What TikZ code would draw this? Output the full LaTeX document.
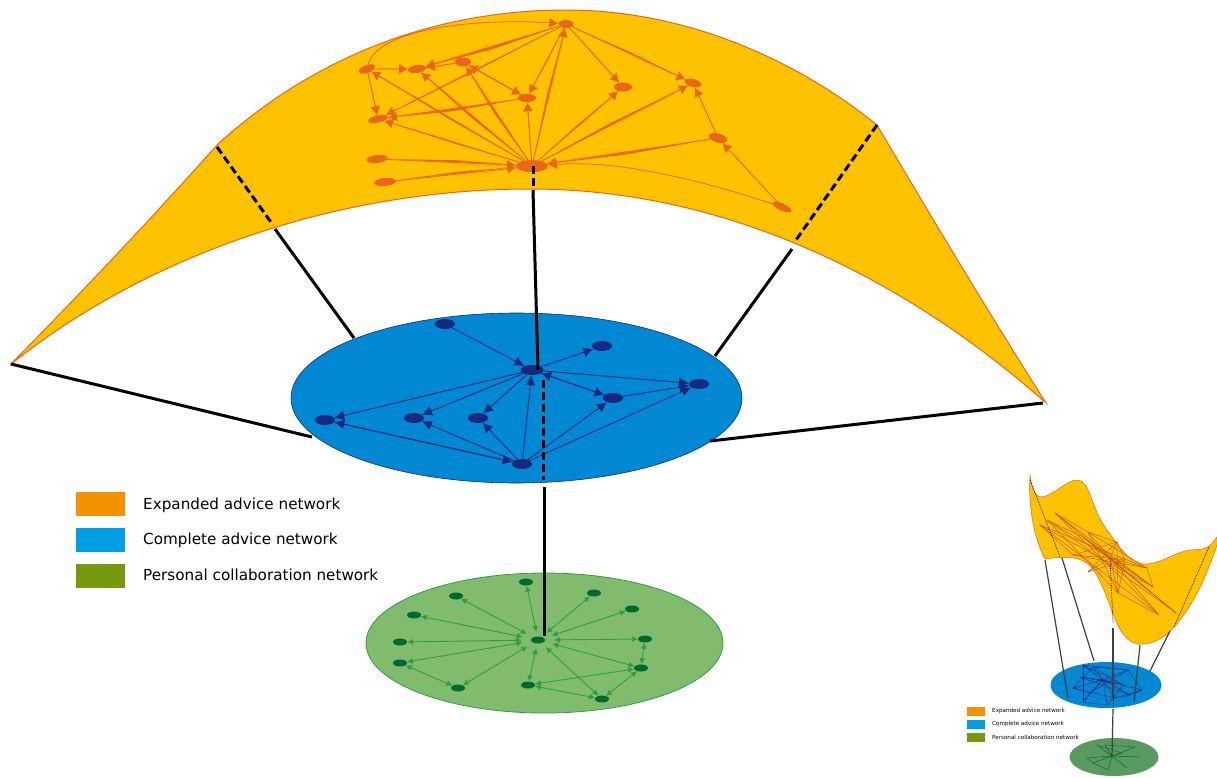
\documentclass[tikz,border=0pt]{standalone}
\usepackage{fontspec}
\setmainfont{DejaVu Sans}
\usepackage{tikz}
\usetikzlibrary{arrows.meta,shapes.geometric,calc}
\definecolor{sheet}{HTML}{FDC300}
\definecolor{orangeline}{HTML}{E9661A}
\definecolor{bluedisc}{HTML}{0089D2}
\definecolor{bluenode}{HTML}{18287F}
\definecolor{greendisc}{HTML}{81BC6E}
\definecolor{greenline}{HTML}{2F9E40}
\definecolor{greennode}{HTML}{006A2E}
\definecolor{minigreen}{HTML}{5A9A60}
\definecolor{keyorange}{HTML}{F39200}
\definecolor{keyblue}{HTML}{009FE3}
\definecolor{keygreen}{HTML}{76990F}

\begin{document}
\begin{tikzpicture}[
  x=1pt,y=-1pt,
  vertex/.style={ellipse,inner sep=0pt,draw=none},
  onode/.style={vertex,fill=orangeline,minimum width=18pt,minimum height=8pt},
  bnode/.style={vertex,fill=bluenode,minimum width=20pt,minimum height=10pt},
  gnode/.style={vertex,fill=greennode,minimum width=14pt,minimum height=7pt},
  oedge/.style={orangeline,line width=0.8pt,-{Latex[length=9pt,width=10pt]}},
  bedge/.style={bluenode,line width=0.9pt,-{Latex[length=10pt,width=10pt]}},
  gedge/.style={greenline,line width=0.9pt,{Latex[length=6pt,width=6pt]}-{Latex[length=6pt,width=6pt]}},
  link/.style={black,line width=3pt},
  dashlink/.style={black,line width=3pt,dash pattern=on 8pt off 4pt},
  keybox/.style={minimum width=49pt,minimum height=24pt,inner sep=0pt},
  keytext/.style={anchor=west,inner sep=0pt,font=\fontsize{15.2}{18}\selectfont},
  minikey/.style={minimum width=18pt,minimum height=9pt,inner sep=0pt},
  minitext/.style={anchor=west,inner sep=0pt,font=\fontsize{5.6}{6}\selectfont},
]
\useasboundingbox (0,0) rectangle (1217,777);

% sheet
\filldraw[fill=sheet,draw=orangeline,line width=1pt]
  (10,365) .. controls (82,292) and (150,220) .. (218,144)
  .. controls (325,47) and (450,10) .. (566,10)
  .. controls (680,10) and (790,55) .. (877,125)
  .. controls (930,215) and (990,315) .. (1046,403)
  .. controls (930,300) and (750,189) .. (530,189)
  .. controls (330,189) and (140,260) .. (10,365) -- cycle;

% discs
\node[ellipse,fill=bluedisc,draw=bluenode,line width=0.6pt,inner sep=0pt,minimum width=451pt,minimum height=170pt] (blue) at (516.5,398) {};
\node[ellipse,fill=greendisc,draw=greenline,line width=0.8pt,inner sep=0pt,minimum width=357pt,minimum height=140pt] (green) at (544.5,643) {};

% orange network
\node[onode,rotate=20,minimum width=17pt] (oa) at (367,69) {};
\node[onode,rotate=8] (ob) at (417,69) {};
\node[onode,minimum width=16pt,minimum height=9pt] (oc) at (463,62) {};
\node[onode] (od) at (527,98) {};
\node[onode,minimum height=9pt] (oe) at (623,87) {};
\node[onode,rotate=-15,minimum width=17pt] (of) at (693,83) {};
\node[onode,rotate=-15,minimum width=19pt,minimum height=9pt] (og) at (718,138) {};
\node[onode,rotate=-25,minimum width=21pt,minimum height=7pt] (oh) at (782,207) {};
\node[onode,rotate=12,minimum width=20pt,minimum height=7pt] (oi) at (378,119) {};
\node[onode,rotate=6,minimum width=21pt] (oj) at (377,159) {};
\node[onode,rotate=5,minimum width=22pt] (ok) at (385,182) {};
\node[onode,minimum width=15pt] (otop) at (566,24) {};
\node[onode,minimum width=32pt,minimum height=12pt] (ohub) at (532,166) {};

\foreach \a/\b/\w in {ohub/oi/1.2,ohub/oa/1.5,ohub/ob/2.2,ohub/oc/2.4,ohub/od/0.5,ohub/otop/2,ohub/oe/1.3,ohub/of/2.2,
  og/ohub/2.6,oj/ohub/2.4,ok/ohub/2.4,oa/oi/0.8,oa/ob/0.5,oc/ob/0.8,otop/ob/2.8,otop/oi/1.2,od/oi/2.6,
  oc/od/0.5,od/oc/0.2,otop/od/0.8,otop/oe/0.5,otop/of/1.6,og/of/0.5,oh/og/0.4}
{
  \fill[orangeline] (\a) -- ($(\a)!.5!(\b)!\w pt!90:(\b)$) -- (\b) -- ($(\a)!.5!(\b)!\w pt!-90:(\b)$) -- cycle;
  \draw[oedge] (\a) -- (\b);
}
\draw[oedge] (oa) .. controls (378,28) and (480,18) .. (otop);
\draw[oedge] (oh) .. controls (700,180) and (620,160) .. (ohub);

% blue network
\node[bnode] (ba) at (445,324) {};
\node[bnode,minimum width=23pt] (bb) at (532,370) {};
\node[bnode] (bc) at (602,346) {};
\node[bnode] (bd) at (699,384) {};
\node[bnode] (be) at (613,398) {};
\node[bnode] (bf) at (325,420) {};
\node[bnode] (bg) at (414,418) {};
\node[bnode] (bh) at (478,418) {};
\node[bnode] (bi) at (522,464) {};

\foreach \a/\b in {ba/bb,bb/bc,bb/bd,bb/be,be/bb,be/bd,bb/bf,bb/bg,bb/bh,bi/bf,bf/bi,bi/bg,bi/bh,bi/bb,bi/be,bi/bd}
{
  \draw[bedge] (\a) -- (\b);
}

% green network
\node[vertex,minimum width=32pt,minimum height=16pt] (ghub) at (538,640) {};
\node[gnode] (gcore) at (ghub) {};
\foreach \n/\pos in {a/{526,582},b/{594,593},c/{632,609},d/{645,639},e/{641,668},f/{602,699},
  g/{528,685},h/{458,688},i/{400,663},j/{400,642},k/{414,615},l/{456,596}}
{
  \node[gnode] (g\n) at (\pos) {};
}
\foreach \b in {a,...,l}
{
  \draw[gedge] (ghub) -- (g\b);
}
\foreach \a/\b in {gd/ge,ge/gf,ge/gg,gf/gg,gh/gi}
{
  \draw[gedge] (\a) -- (\b);
}

% links between the layers
\coordinate (cutL) at (217,147);
\coordinate (lowL) at (273,225);
\coordinate (topL) at (275,229);
\coordinate (discL) at (354,338);
\coordinate (cutR) at (877,125);
\coordinate (lowR) at (796,240);
\coordinate (topR) at (792,249);
\coordinate (discR) at (715,356);
\coordinate (cutM) at (533,166);
\coordinate (lowM) at (533,190);
\coordinate (discM) at (538,370);
\coordinate (tipL) at (11,364);
\coordinate (sideL) at (312,437);
\coordinate (tipR) at (1043,403);
\coordinate (sideR) at (710,441);
\coordinate (blueT) at (543,380);
\coordinate (blueB) at (543,480);
\coordinate (blueO) at (544,487);
\coordinate (greenM) at (544,636);

\draw[dashlink] (cutL) -- (lowL);
\draw[dashlink] (cutR) -- (lowR);
\draw[dashlink] (cutM) -- (lowM);
\draw[dashlink] (blueT) -- (blueB);
\draw[link] (topL) -- (discL);
\draw[link] (topR) -- (discR);
\draw[link] (lowM) -- (discM);
\draw[link] (tipL) -- (sideL);
\draw[link] (tipR) -- (sideR);
\draw[link] (blueO) -- (greenM);

% key
\node[keybox,fill=keyorange] (kone) at (100.5,504) {};
\node[keybox,fill=keyblue] (ktwo) at (100.5,540) {};
\node[keybox,fill=keygreen] (kthree) at (100.5,576) {};
\node[keytext] (tone) at (143,505) {Expanded advice network};
\node[keytext] (ttwo) at (143,540) {Complete advice network};
\node[keytext] (tthree) at (143,575) {Personal collaboration network};

% small copy
\filldraw[fill=sheet,draw=orangeline,line width=0.5pt]
  (1030,475) .. controls (1032,490) and (1036,498) .. (1042,497)
  .. controls (1055,495) and (1066,480) .. (1077,480)
  .. controls (1090,480) and (1090,505) .. (1105,527)
  .. controls (1120,548) and (1130,565) .. (1147,564)
  .. controls (1165,562) and (1175,552) .. (1190,550)
  .. controls (1205,549) and (1208,550) .. (1217,537)
  -- (1217,545) .. controls (1205,580) and (1195,600) .. (1180,620)
  .. controls (1165,640) and (1150,645) .. (1138,644)
  .. controls (1115,640) and (1112,600) .. (1095,572)
  .. controls (1085,555) and (1065,556) .. (1045,559)
  .. controls (1035,540) and (1028,510) .. (1030,475) -- cycle;

\foreach \n/\pos in {a/{1040,525},b/{1055,513},c/{1047,520},d/{1088,532},e/{1117,542},f/{1125,560},
  g/{1147,568},h/{1153,587},i/{1159,615},j/{1176,613},k/{1118,593},l/{1088,572},m/{1110,558},n/{1073,555},o/{1083,537}}
{
  \coordinate (s\n) at (\pos);
}
\foreach \a/\b in {sa/si,sb/sj,sc/sm,sa/sg,sb/sh,sc/sk,sd/sm,se/sm,sf/sm,sg/sm,sh/sm,si/sm,sj/sm,sk/sm,sl/sm,sn/sm,so/sm,
  sb/sd,sd/se,se/sf,sl/sf,sn/se,sa/sn,so/sh,sd/sg,sg/sh,sk/sf,sc/so,sb/si,sc/sj,sa/sh,so/sj,sl/se,sn/sg,sd/sk,se/sk,sk/si}
{
  \draw[orangeline!85!black,line width=0.45pt] (\a) -- (\b);
}

\coordinate (fa) at (1030,480);
\coordinate (fb) at (1060,557);
\coordinate (fc) at (1110,558);
\coordinate (fd) at (1113,623);
\coordinate (fe) at (1209,547);
\coordinate (ff) at (1174,627);
\coordinate (fg) at (1045,560);
\coordinate (fh) at (1068,698);
\coordinate (fi) at (1062,558);
\coordinate (fj) at (1094,661);
\coordinate (fk) at (1140,645);
\coordinate (fl) at (1134,702);
\coordinate (fm) at (1170,631);
\coordinate (fn) at (1150,671);
\coordinate (fo) at (1113,628);
\coordinate (fp) at (1113,700);
\coordinate (fq) at (1113,709);
\coordinate (fr) at (1112,756);

\node[ellipse,fill=bluedisc,inner sep=0pt,minimum width=111pt,minimum height=46pt] (miniblue) at (1106,685) {};
\node[ellipse,fill=minigreen,inner sep=0pt,minimum width=89pt,minimum height=38pt] (minigreen) at (1114,757) {};

\foreach \n/\pos in {a/{1083,665},b/{1128,670},c/{1073,688},d/{1090,693},e/{1083,702},f/{1115,698},g/{1130,695},
  h/{1107,705},i/{1142,690},j/{1123,685},k/{1093,667},l/{1080,677}}
{
  \coordinate (u\n) at (\pos);
}
\coordinate (uhub) at (1103,680);
\foreach \b in {a,...,l}
{
  \draw[bluenode,line width=0.5pt] (uhub) -- (u\b);
}
\foreach \a/\b in {ua/uj,uk/ub,ul/ug,uc/uk,ud/ub,ue/ua,uf/ui,uh/uj,ub/ui,ua/ub,uc/ud,ud/ue,ue/uh,uf/ug,ug/ui,uk/uj,ul/uj,uc/uf}
{
  \draw[bluenode,line width=0.4pt] (\a) -- (\b);
}

\foreach \n/\pos in {a/{1087,758},b/{1097,745},c/{1105,745},d/{1135,747},e/{1127,768},f/{1108,770},g/{1093,763},h/{1122,753},i/{1140,757}}
{
  \coordinate (v\n) at (\pos);
}
\coordinate (vhub) at (1112,756);
\foreach \b in {a,...,i}
{
  \draw[greennode,line width=0.5pt] (vhub) -- (v\b);
}
\foreach \a/\b in {vb/vh,vc/vd,va/vg,vg/vf}
{
  \draw[greennode,line width=0.4pt] (\a) -- (\b);
}

\draw[black,line width=0.7pt,densely dotted] (fa) -- (fb);
\draw[black,line width=0.7pt,densely dotted] (fc) -- (fd);
\draw[black,line width=0.7pt,densely dotted] (fe) -- (ff);
\draw[black,line width=0.7pt,densely dotted] (fp) -- (fq);
\draw[black!75,line width=1.2pt] (fg) -- (fh);
\draw[black!75,line width=1.2pt] (fi) -- (fj);
\draw[black!75,line width=1.2pt] (fk) -- (fl);
\draw[black!75,line width=1.2pt] (fm) -- (fn);
\draw[black!75,line width=1.2pt] (fo) -- (fp);
\draw[black!75,line width=1.2pt] (fq) -- (fr);

\node[minikey,fill=keyorange] (mone) at (976,711) {};
\node[minikey,fill=keyblue] (mtwo) at (976,724) {};
\node[minikey,fill=keygreen] (mthree) at (976,737) {};
\node[minitext] (none) at (992,711) {Expanded advice network};
\node[minitext] (ntwo) at (992,724) {Complete advice network};
\node[minitext] (nthree) at (992,737) {Personal collaboration network};
\end{tikzpicture}
\end{document}
